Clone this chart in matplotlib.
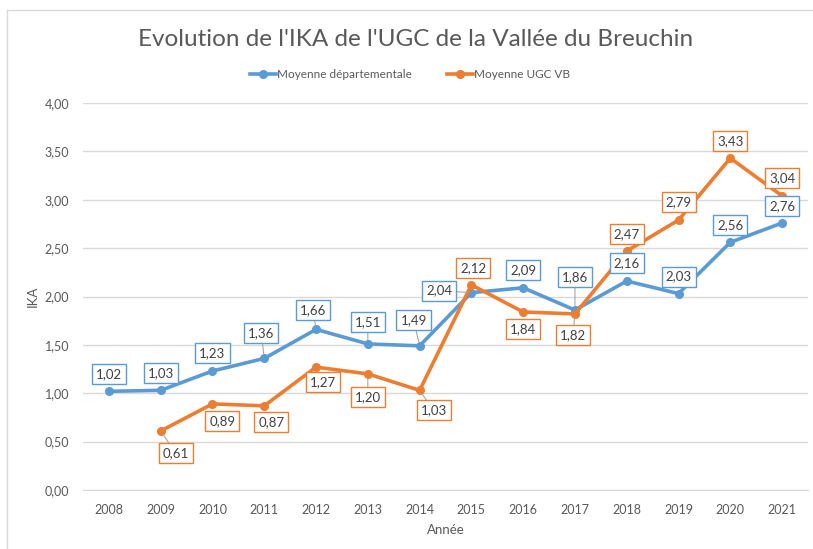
import numpy as np
import matplotlib.pyplot as plt
from matplotlib.lines import Line2D

# data
years = [2008, 2009, 2010, 2011, 2012, 2013, 2014, 2015, 2016, 2017, 2018, 2019, 2020, 2021]
dept = [1.02, 1.03, 1.23, 1.36, 1.66, 1.51, 1.49, 2.04, 2.09, 1.86, 2.16, 2.03, 2.56, 2.76]
ugc_years = [2009, 2010, 2011, 2012, 2013, 2014, 2015, 2016, 2017, 2018, 2019, 2020, 2021]
ugc = [0.61, 0.89, 0.87, 1.27, 1.20, 1.03, 2.12, 1.84, 1.82, 2.47, 2.79, 3.43, 3.04]

# label offsets in pixels (dx, dy) and whether a leader line is drawn
dept_off = [(0, 17, 0), (0, 17, 0), (0, 18, 0), (-3, 25, 1), (-3, 19, 1), (0, 22, 1), (-6, 26, 1),
            (-32, 2, 1), (0, 18, 0), (0, 33, 1), (0, 18, 0), (0, 17, 0), (0, 17, 0), (0, 17, 0)]
ugc_off = [(15, -22, 1), (10, -17, 0), (7, -16, 0), (7, -15, 0), (0, -23, 1), (14, -20, 1),
           (2, 17, 0), (0, -17, 0), (-2, -21, 1), (0, 17, 0), (0, 18, 0), (0, 17, 0), (0, 18, 0)]

blue = '#5b9bd5'
orange = '#ed7d31'
txt = '#595959'

plt.rcParams['font.family'] = ['Lato', 'DejaVu Sans']

fig = plt.figure(figsize=(8.13, 5.49), dpi=100)
ax = fig.add_axes([83 / 813, 1 - 490 / 549, (808 - 83) / 813, (490 - 103) / 549])

ax.plot(years, dept, color=blue, lw=2.6, marker='o', ms=5.5, zorder=3)
ax.plot(ugc_years, ugc, color=orange, lw=2.6, marker='o', ms=5.5, zorder=3)


def labels(xs, ys, offs, col):
    for x, y, (dx, dy, lead) in zip(xs, ys, offs):
        ap = None
        if lead:
            ap = dict(arrowstyle='-', color='#a6a6a6', lw=0.8, shrinkA=0, shrinkB=3)
        ax.annotate('{:.2f}'.format(y).replace('.', ','), (x, y), xytext=(dx, dy),
                    textcoords='offset pixels', ha='center', va='center', fontsize=9.5,
                    color='#404040', zorder=5, arrowprops=ap,
                    bbox=dict(boxstyle='square,pad=0.3', fc='white', ec=col, lw=1.0))


labels(years, dept, dept_off, blue)
labels(ugc_years, ugc, ugc_off, orange)

ax.set_xlim(2007.5, 2021.5)
ax.set_ylim(0, 4)
ax.set_xticks(years)
ax.set_yticks(np.arange(0, 4.01, 0.5))
ax.set_yticklabels(['{:.2f}'.format(v).replace('.', ',') for v in np.arange(0, 4.01, 0.5)])
ax.tick_params(length=0, labelsize=9, colors=txt, pad=10)
ax.grid(axis='y', color='#d9d9d9', lw=1)
ax.set_axisbelow(True)
for s in ['top', 'right', 'left']:
    ax.spines[s].set_visible(False)
ax.spines['bottom'].set_color('#d9d9d9')
ax.set_ylabel('IKA', fontsize=9.5, color=txt, labelpad=4)
ax.set_xlabel('Année', fontsize=9.5, color=txt, labelpad=6)

fig.suptitle("Evolution de l'IKA de l'UGC de la Vallée du Breuchin", x=416 / 813, y=1 - 39 / 549,
             va='center', fontsize=17.5, color=txt)

handles = [Line2D([], [], color=blue, lw=2.6, marker='o', ms=5.5),
           Line2D([], [], color=orange, lw=2.6, marker='o', ms=5.5)]
fig.legend(handles, ['Moyenne départementale', 'Moyenne UGC VB'], loc='center',
           bbox_to_anchor=(410 / 813, 1 - 75 / 549), ncol=2, frameon=False, fontsize=8.5,
           labelcolor=txt, handlelength=2.2, columnspacing=3, handletextpad=0.1)

# chart border
fig.add_artist(Line2D([7 / 813, 7 / 813], [0, 1 - 10 / 549], color='#d9d9d9', lw=1))
fig.add_artist(Line2D([7 / 813, 1], [1 - 10 / 549, 1 - 10 / 549], color='#d9d9d9', lw=1))

fig.savefig('out.png', dpi=100)
